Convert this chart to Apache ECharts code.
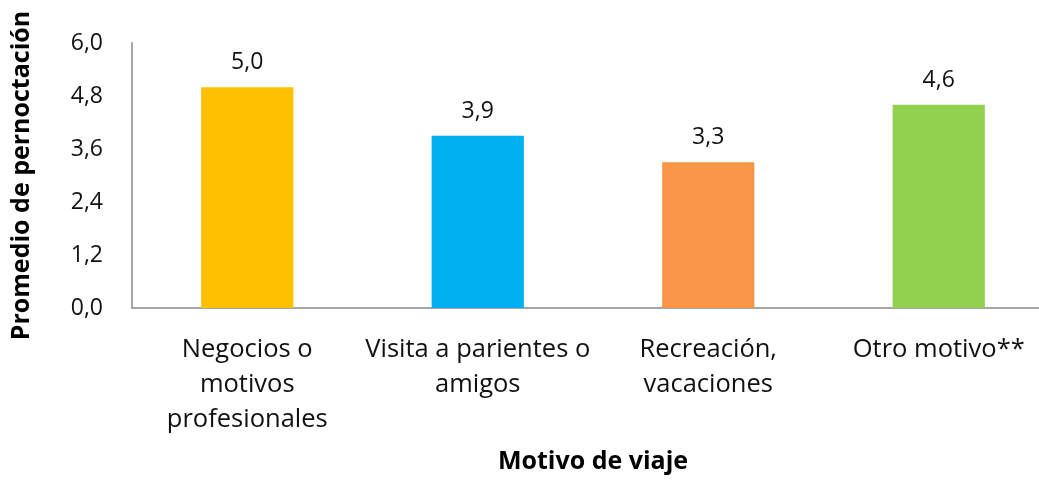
<!DOCTYPE html>
<html>
<head>
<meta charset="utf-8">
<script src="https://cdn.jsdelivr.net/npm/echarts@6/dist/echarts.min.js"></script>
<style>
  html, body { margin: 0; padding: 0; background: #fff; }
  #main { width: 1039px; height: 480px; }
</style>
</head>
<body>
<div id="main"></div>
<script>
// datos
var categorias = [
  'Negocios o\nmotivos\nprofesionales',
  'Visita a parientes o\namigos',
  'Recreación,\nvacaciones',
  'Otro motivo**'
];
var valores = [5.0, 3.9, 3.3, 4.6];
var colores = ['#FFC000', '#00B0F0', '#F79646', '#92D050'];

var fuente = '"Open Sans", "Noto Sans", sans-serif';

var myChart = echarts.init(document.getElementById('main'));

var option = {
  animation: false,
  textStyle: { fontFamily: fuente },
  grid: { left: 132, right: -15, top: 43, bottom: 172, outerBoundsMode: 'none', containLabel: false },
  xAxis: {
    type: 'category',
    data: categorias,
    name: 'Motivo de viaje',
    nameLocation: 'middle',
    nameGap: 141,
    nameTextStyle: { fontFamily: fuente, fontSize: 25, fontWeight: 'bold', color: '#000' },
    axisLine: { lineStyle: { color: '#a6a6a6', width: 2 } },
    axisTick: { show: false },
    axisLabel: {
      interval: 0,
      margin: 24,
      fontSize: 25.5,
      lineHeight: 35,
      color: '#111',
      fontFamily: fuente
    }
  },
  yAxis: {
    type: 'value',
    min: 0,
    max: 6,
    interval: 1.2,
    name: 'Promedio de pernoctación',
    nameLocation: 'middle',
    nameGap: 98,
    nameTextStyle: { fontFamily: fuente, fontSize: 25, fontWeight: 'bold', color: '#000' },
    splitLine: { show: false },
    axisTick: { show: false },
    axisLine: { show: true, lineStyle: { color: '#a6a6a6', width: 2 } },
    axisLabel: {
      margin: 29,
      fontSize: 23,
      color: '#111',
      fontFamily: fuente,
      formatter: function (v) { return v.toFixed(1).replace('.', ','); }
    }
  },
  series: [{
    type: 'bar',
    barCategoryGap: '60%',
    data: valores.map(function (v, i) {
      return { value: v, itemStyle: { color: colores[i] } };
    }),
    label: {
      show: true,
      position: 'top',
      distance: 13,
      fontSize: 23,
      color: '#111',
      fontFamily: fuente,
      formatter: function (p) { return p.value.toFixed(1).replace('.', ','); }
    }
  }]
};

myChart.setOption(option);
</script>
</body>
</html>
